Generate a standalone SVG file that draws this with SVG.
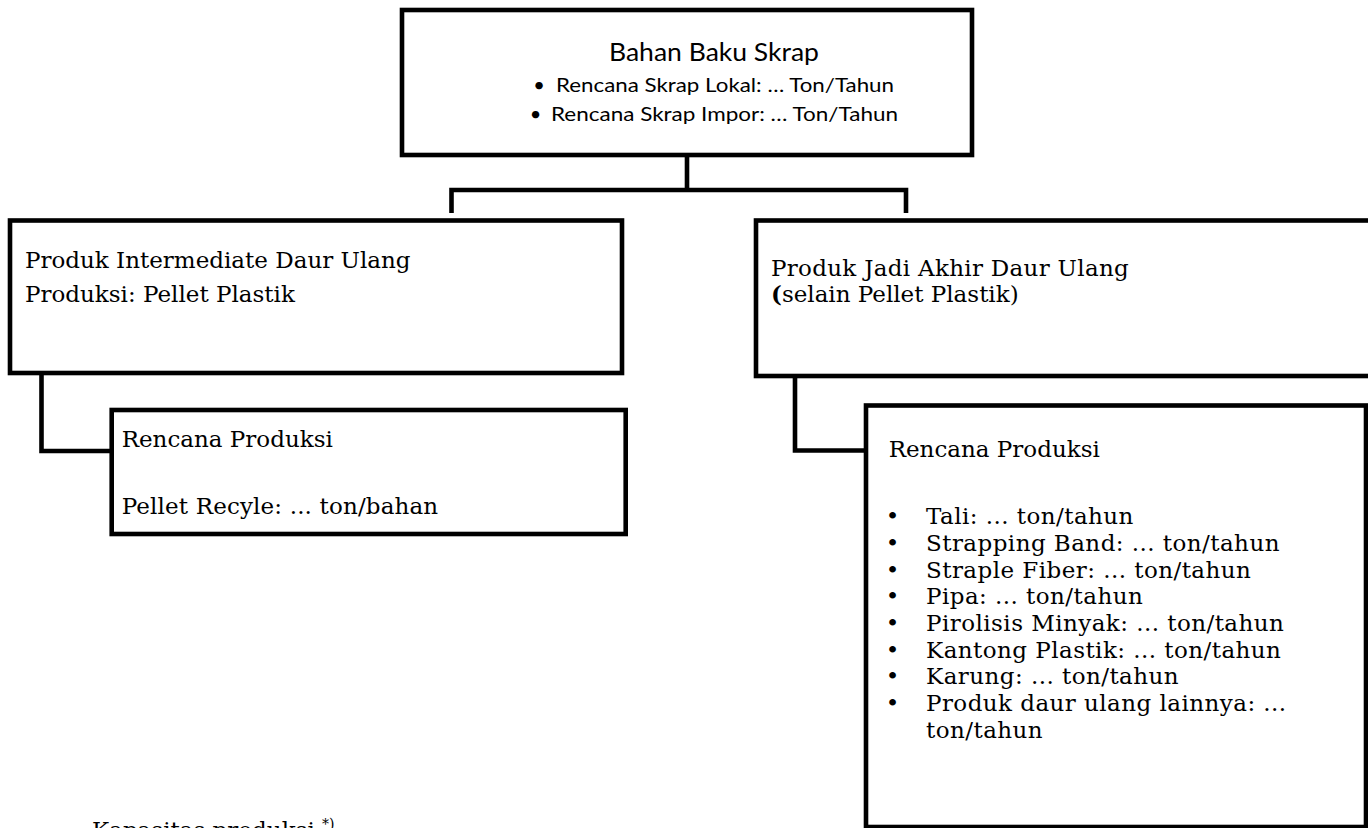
<svg xmlns="http://www.w3.org/2000/svg" width="1368" height="828" viewBox="0 0 1368 828">
<style>
.box{fill:#fff;stroke:#000;stroke-width:4.6}
.con{fill:none;stroke:#000;stroke-width:4.6;stroke-linejoin:miter;stroke-linecap:butt}
.sans{font-family:Lato,"Liberation Sans",sans-serif;fill:#000}
.serif{font-family:"DejaVu Serif","Liberation Serif",serif;font-size:23px;fill:#000}
.li{letter-spacing:0.45px}
.bul{text-anchor:middle}
</style>
<rect width="1368" height="828" fill="#fff"/>
<g id="connectors">
<path class="con" d="M687,157 V190 M451.5,213 V190 H906 V213"/>
<path class="con" d="M41.5,375 V451 H111"/>
<path class="con" d="M795,378 V450.5 H866"/>
</g>
<g id="bahan-baku">
<rect class="box" x="402" y="10" width="570" height="145"/>
<text class="sans" x="609" y="61" font-size="25" textLength="210" lengthAdjust="spacingAndGlyphs">Bahan Baku Skrap</text>
<text class="sans bul" x="539" y="92" font-size="20">•</text>
<text class="sans" x="556" y="92" font-size="20" textLength="338" lengthAdjust="spacingAndGlyphs">Rencana Skrap Lokal: … Ton/Tahun</text>
<text class="sans bul" x="535.5" y="121" font-size="20">•</text>
<text class="sans" x="551" y="121" font-size="20" textLength="347" lengthAdjust="spacingAndGlyphs">Rencana Skrap Impor: … Ton/Tahun</text>
</g>
<g id="produk-intermediate">
<rect class="box" x="10" y="220.5" width="612" height="152.5"/>
<text class="serif" x="25" y="268">Produk Intermediate Daur Ulang</text>
<text class="serif" x="25" y="301.5">Produksi: Pellet Plastik</text>
</g>
<g id="rencana-pellet">
<rect class="box" x="111.7" y="410" width="514" height="124"/>
<text class="serif" x="121.7" y="447">Rencana Produksi</text>
<text class="serif" x="121.7" y="514" letter-spacing="0.15">Pellet Recyle: ... ton/bahan</text>
</g>
<g id="produk-jadi">
<rect class="box" x="756" y="220.5" width="640" height="155.5"/>
<text class="serif" x="771" y="276" letter-spacing="0.3">Produk Jadi Akhir Daur Ulang</text>
<text class="serif" x="771" y="301.5"><tspan font-weight="bold">(</tspan>selain Pellet Plastik)</text>
</g>
<g id="rencana-produk">
<rect class="box" x="866" y="405.5" width="500" height="421.5"/>
<text class="serif" x="888.7" y="457">Rencana Produksi</text>
<text class="serif bul" x="892.5" y="524.3">•</text>
<text class="serif li" x="926" y="524.3">Tali: ... ton/tahun</text>
<text class="serif bul" x="892.5" y="551">•</text>
<text class="serif li" x="926" y="551">Strapping Band: ... ton/tahun</text>
<text class="serif bul" x="892.5" y="577.7">•</text>
<text class="serif li" x="926" y="577.7">Straple Fiber: ... ton/tahun</text>
<text class="serif bul" x="892.5" y="604.3">•</text>
<text class="serif li" x="926" y="604.3">Pipa: ... ton/tahun</text>
<text class="serif bul" x="892.5" y="631">•</text>
<text class="serif li" x="926" y="631">Pirolisis Minyak: ... ton/tahun</text>
<text class="serif bul" x="892.5" y="657.7">•</text>
<text class="serif li" x="926" y="657.7">Kantong Plastik: ... ton/tahun</text>
<text class="serif bul" x="892.5" y="684.3">•</text>
<text class="serif li" x="926" y="684.3">Karung: ... ton/tahun</text>
<text class="serif bul" x="892.5" y="711">•</text>
<text class="serif li" x="926" y="711">Produk daur ulang lainnya: ...</text>
<text class="serif li" x="926" y="737.7">ton/tahun</text>
</g>
<g id="kapasitas">
<text class="serif" x="92" y="838">Kapasitas produksi <tspan font-size="14" dy="-9">*)</tspan><tspan dy="9">:</tspan></text>
</g>
</svg>
